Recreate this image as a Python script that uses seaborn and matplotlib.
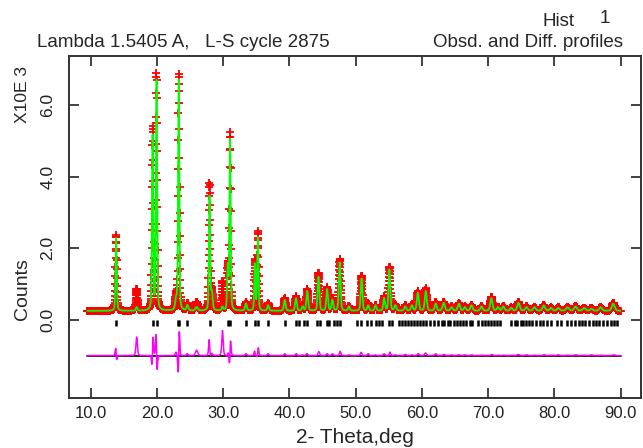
import numpy as np
import pandas as pd
import matplotlib
matplotlib.use("Agg")
import matplotlib.pyplot as plt
import seaborn as sns

# ---------------- data ----------------
two_theta_start = 9.5
two_theta_end = 90.0
two_theta_step = 0.02
background = 0.25          # x10^3 counts
diff_offset = -1.0         # where the difference curve is drawn
tick_row = -0.08           # row of reflection markers

peak_pos = [13.85, 16.95, 19.35, 19.95, 22.9, 23.3, 24.6, 26.0, 27.95, 28.3,
            29.9, 30.7, 31.05, 33.45, 34.8, 35.25, 36.8, 39.3, 41.0, 42.0,
            42.7, 44.4, 45.7, 46.5, 47.6, 49.0, 50.9, 51.9, 53.0, 54.3,
            55.1, 56.0, 57.5, 58.5, 59.4, 60.6, 62.1, 63.3, 64.5, 65.6,
            66.5, 67.5, 69.0, 70.5, 71.5, 72.3, 73.5, 74.6, 75.8, 77.0,
            78.4, 79.5, 80.6, 82.0, 83.2, 84.5, 85.6, 87.0, 88.9]
peak_calc = [2.05, 0.10, 4.90, 6.45, 0.30, 6.45, 0.15, 0.10, 3.20, 0.50,
             0.10, 1.20, 4.80, 0.20, 1.30, 2.05, 0.15, 0.30, 0.35, 0.12,
             0.55, 0.95, 0.60, 0.30, 1.35, 0.12, 0.90, 0.15, 0.15, 0.35,
             1.15, 0.15, 0.12, 0.15, 0.50, 0.55, 0.20, 0.22, 0.10, 0.20,
             0.10, 0.15, 0.12, 0.35, 0.10, 0.12, 0.08, 0.22, 0.10, 0.10,
             0.15, 0.08, 0.08, 0.10, 0.12, 0.08, 0.06, 0.10, 0.20]
peak_obs = [2.12, 0.62, 5.10, 6.60, 0.40, 6.60, 0.20, 0.25, 3.55, 0.55,
            0.80, 1.25, 4.95, 0.25, 1.40, 2.20, 0.20, 0.35, 0.40, 0.14,
            0.60, 1.05, 0.65, 0.35, 1.45, 0.14, 0.98, 0.20, 0.17, 0.40,
            1.22, 0.17, 0.15, 0.17, 0.55, 0.62, 0.25, 0.25, 0.12, 0.22,
            0.12, 0.17, 0.13, 0.38, 0.11, 0.13, 0.09, 0.25, 0.12, 0.11,
            0.17, 0.09, 0.10, 0.11, 0.14, 0.09, 0.08, 0.11, 0.22]
peak_shift = [-0.012, 0.0, 0.012, -0.012, 0.0, 0.014, 0.0, 0.0, -0.008, 0.0,
              0.0, 0.006, 0.010, 0.0, -0.006, 0.008, 0.0, 0.0, 0.005, 0.0,
              -0.005, 0.006, 0.0, 0.0, 0.006, 0.0, -0.006, 0.0, 0.0, 0.0,
              0.008, 0.0, 0.0, 0.0, 0.005, -0.005, 0.0, 0.005, 0.0, -0.005,
              0.0, 0.0, 0.0, 0.005, 0.0, 0.0, 0.0, -0.005, 0.0, 0.0,
              0.005, 0.0, 0.0, 0.0, 0.005, 0.0, 0.0, 0.0, 0.005]
peak_fwhm = [0.22, 0.25, 0.22, 0.22, 0.30, 0.22, 0.30, 0.40, 0.22, 0.30,
             0.25, 0.22, 0.22, 0.30, 0.22, 0.22, 0.30, 0.30, 0.30, 0.30,
             0.30, 0.30, 0.30, 0.30, 0.30, 0.30, 0.30, 0.30, 0.30, 0.30,
             0.30, 0.35, 0.35, 0.35, 0.35, 0.35, 0.35, 0.40, 0.40, 0.40,
             0.40, 0.40, 0.40, 0.40, 0.40, 0.40, 0.40, 0.45, 0.45, 0.45,
             0.45, 0.45, 0.45, 0.50, 0.50, 0.50, 0.50, 0.50, 0.50]
reflections = [13.85, 19.35, 19.95, 23.15, 23.35, 24.6, 28.0, 30.7, 31.1, 33.5,
               34.8, 35.25, 36.8, 39.3, 41.0, 41.4, 42.2, 42.7, 44.2, 44.6,
               45.7, 46.0, 46.7, 47.2, 47.6, 50.2, 50.8, 51.7, 52.3, 53.1,
               53.5, 54.0, 55.0, 55.5, 56.5, 57.0, 57.4, 57.9, 58.3, 58.8,
               59.3, 59.7, 60.2, 60.6, 61.3, 61.8, 62.5, 63.0, 63.4, 63.9,
               64.3, 64.8, 65.3, 65.8, 66.2, 66.6, 67.2, 67.6, 68.5, 69.1,
               69.6, 70.0, 70.5, 70.9, 71.4, 71.8, 73.5, 74.0, 74.4, 74.9,
               75.3, 75.8, 76.2, 76.7, 77.3, 77.8, 78.3, 78.9, 79.5, 80.4,
               81.0, 81.9, 82.5, 83.2, 83.7, 84.2, 84.7, 85.3, 85.8, 86.3,
               86.8, 87.4, 87.9, 88.5, 89.0, 89.5]
x_ticks = [10, 20, 30, 40, 50, 60, 70, 80, 90]
x_tick_labels = ["10.0", "20.0", "30.0", "40.0", "50.0", "60.0", "70.0", "80.0", "90.0"]
y_ticks = [0, 2, 4, 6]
y_tick_labels = ["0.0", "2.0", "4.0", "6.0"]

# ---------------- build profiles from the peak table ----------------
tth = np.arange(two_theta_start, two_theta_end + 1e-9, two_theta_step)


def pseudo_voigt(x, c, fwhm, eta=0.3):
    s = fwhm / 2.3548
    g = np.exp(-0.5 * ((x - c) / s) ** 2)
    lo = 1.0 / (1.0 + ((x - c) / (fwhm / 2)) ** 2)
    return eta * lo + (1 - eta) * g


calc = np.full_like(tth, background)
obs = np.full_like(tth, background)
for p, hc, ho, sh, w in zip(peak_pos, peak_calc, peak_obs, peak_shift, peak_fwhm):
    calc += hc * pseudo_voigt(tth, p, w)
    obs += ho * pseudo_voigt(tth, p + sh, w)
diff = obs - calc + diff_offset

df = pd.DataFrame({"tth": tth, "obs": obs, "calc": calc, "diff": diff})
refl_df = pd.DataFrame({"pos": reflections, "row": [tick_row] * len(reflections)})

# ---------------- plot ----------------
sns.set_style("ticks")
plt.rcParams["font.family"] = ["Liberation Sans", "DejaVu Sans"]

fig = plt.figure(figsize=(6.43, 4.48), dpi=100)
ax = fig.add_axes([0.108, 0.112, 0.889, 0.762])

sns.scatterplot(data=df, x="tth", y="obs", marker="+", color="#ff0000",
                s=32, linewidth=1.3, ax=ax, zorder=2, legend=False)
sns.lineplot(data=df, x="tth", y="calc", color="#00ff00", lw=1.3,
             estimator=None, sort=False, ax=ax, zorder=3)
ax.plot([two_theta_start, two_theta_end], [diff_offset, diff_offset],
        color="black", lw=1.2, zorder=3)
sns.lineplot(data=df, x="tth", y="diff", color="#ff00ff", lw=1.1,
             estimator=None, sort=False, ax=ax, zorder=4)
sns.scatterplot(data=refl_df, x="pos", y="row", marker="|", color="black",
                s=22, linewidth=1.8, ax=ax, zorder=4, legend=False)

ax.set_xlim(6.8, 93.1)
ax.set_ylim(-2.18, 7.36)
ax.set_xticks(x_ticks)
ax.set_xticklabels(x_tick_labels, fontsize=12)
ax.set_yticks(y_ticks)
ax.set_yticklabels(y_tick_labels, fontsize=12.5, rotation=90, va="center")
ax.tick_params(direction="in", length=7, width=1.2, top=True, right=True,
               colors="#222222", pad=6)
ax.tick_params(axis="y", pad=10)
for sp in ax.spines.values():
    sp.set_linewidth(1.4)
    sp.set_color("#333333")

ax.set_xlabel("2- Theta,deg", fontsize=15, labelpad=5)
ax.set_ylabel("")
fig.text(0.035, 0.355, "Counts", rotation=90, fontsize=14, ha="center", va="center")
fig.text(0.035, 0.79, "X10E 3", rotation=90, fontsize=12.5, ha="center", va="center")

fig.text(0.057, 0.905, "Lambda 1.5405 A,   L-S cycle 2875", fontsize=13.5, ha="left", va="center")
fig.text(0.969, 0.905, "Obsd. and Diff. profiles", fontsize=13.5, ha="right", va="center")
fig.text(0.844, 0.952, "Hist", fontsize=13.5, ha="left", va="center")
fig.text(0.932, 0.958, "1", fontsize=13.5, ha="left", va="center")

fig.savefig("out.png", dpi=100)
